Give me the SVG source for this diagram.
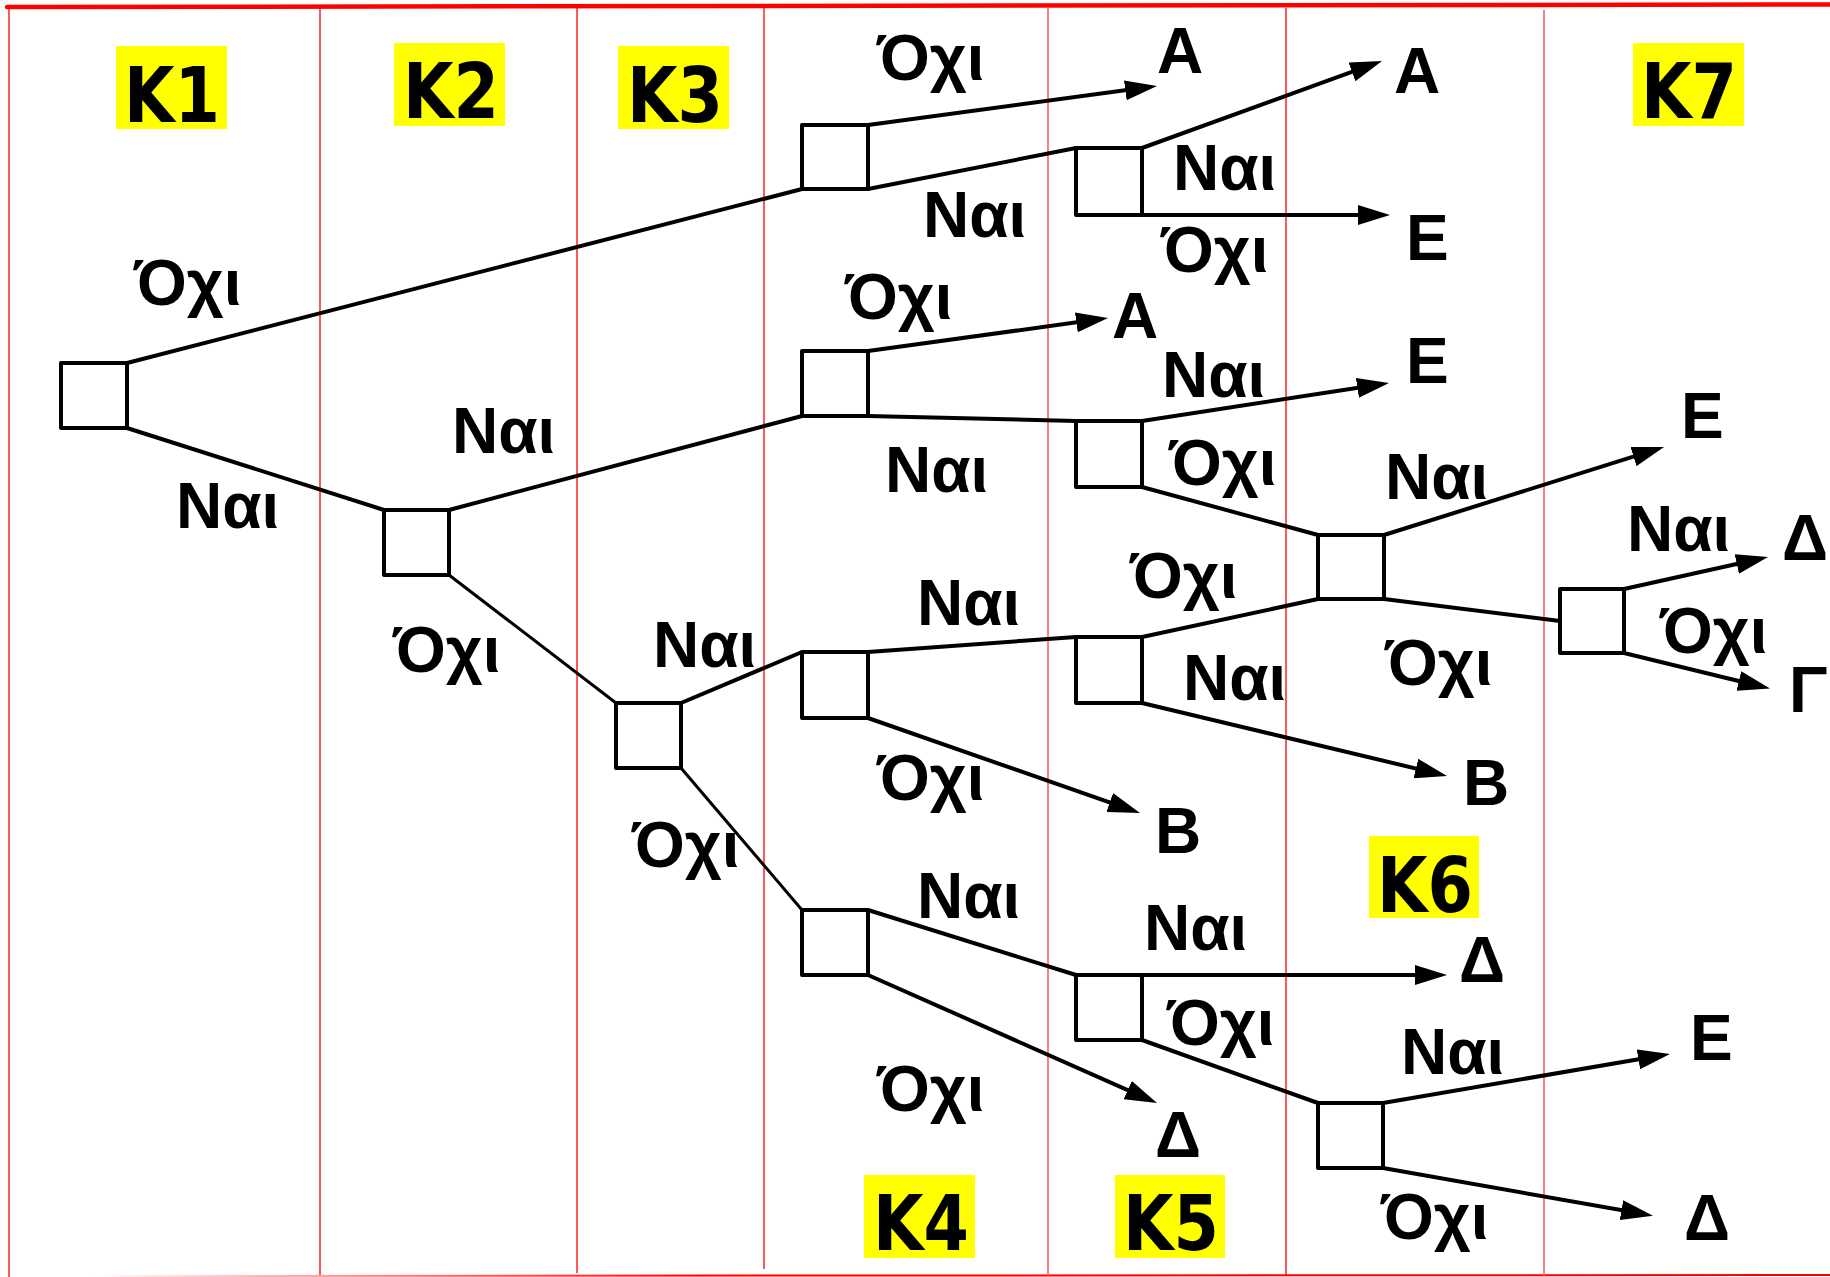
<svg xmlns="http://www.w3.org/2000/svg" width="1830" height="1277" viewBox="0 0 1830 1277">
<style>
.t{font-family:"Liberation Sans",Arial,sans-serif;font-weight:bold;font-size:64px;fill:#000}
.k{font-family:"DejaVu Sans Condensed","DejaVu Sans",sans-serif;font-stretch:condensed;font-weight:bold;font-size:76px;fill:#000}
.kb{fill:#ffff00}
.n{fill:#fff;stroke:#000;stroke-width:4;stroke-linejoin:round}
.c{stroke:#000;stroke-width:4;fill:none}
.c3{stroke:#000;stroke-width:3;fill:none}
.a{marker-end:url(#ah)}
.g{stroke:#ff0000;stroke-width:1.3}
.g2{stroke:#ff5555;stroke-width:1.5}
</style>
<defs>
<marker id="ah" markerUnits="userSpaceOnUse" markerWidth="32" markerHeight="20" viewBox="0 0 32 20" refX="24" refY="10" orient="auto">
<path d="M0,0 L32,10 L0,20 z" fill="#000"/>
</marker>
<linearGradient id="bg" gradientUnits="userSpaceOnUse" x1="90" y1="0" x2="700" y2="0">
<stop offset="0" stop-color="#ff0000" stop-opacity="0"/>
<stop offset="1" stop-color="#ff0000" stop-opacity="1"/>
</linearGradient>
</defs>
<rect width="1830" height="1277" fill="#fff"/>
<g id="grid">
<line x1="7" y1="7" x2="1830" y2="4.5" stroke="#ff0000" stroke-width="4.5" stroke-linecap="round"/>
<line x1="60" y1="1276" x2="1830" y2="1275" stroke="url(#bg)" stroke-width="2"/>
<line class="g" x1="9" y1="8" x2="9" y2="1277"/>
<line class="g" x1="320" y1="8" x2="320" y2="1275"/>
<line class="g" x1="577" y1="8" x2="577" y2="1273"/>
<line class="g" x1="764" y1="8" x2="764" y2="1269"/>
<line class="g2" x1="1048" y1="8" x2="1048" y2="1276"/>
<line class="g" x1="1286" y1="8" x2="1286" y2="1276"/>
<line class="g2" x1="1544" y1="10" x2="1544" y2="1276"/>
</g>
<g id="klabels">
<g id="K1"><rect class="kb" x="116" y="46" width="111" height="83"/><text class="k" x="124" y="122" textLength="96" lengthAdjust="spacingAndGlyphs">K1</text></g>
<g id="K2"><rect class="kb" x="394" y="43" width="111" height="83"/><text class="k" x="403" y="118" textLength="96" lengthAdjust="spacingAndGlyphs">K2</text></g>
<g id="K3"><rect class="kb" x="618" y="46" width="111" height="83"/><text class="k" x="627" y="122" textLength="96" lengthAdjust="spacingAndGlyphs">K3</text></g>
<g id="K4"><rect class="kb" x="864" y="1175" width="111" height="83"/><text class="k" x="873" y="1250" textLength="96" lengthAdjust="spacingAndGlyphs">K4</text></g>
<g id="K5"><rect class="kb" x="1115" y="1175" width="110" height="83"/><text class="k" x="1123" y="1250" textLength="96" lengthAdjust="spacingAndGlyphs">K5</text></g>
<g id="K6"><rect class="kb" x="1369" y="836" width="110" height="82"/><text class="k" x="1377" y="912" textLength="96" lengthAdjust="spacingAndGlyphs">K6</text></g>
<g id="K7"><rect class="kb" x="1633" y="43" width="111" height="83"/><text class="k" x="1641" y="118" textLength="96" lengthAdjust="spacingAndGlyphs">K7</text></g>
</g>
<g id="connectors">
<line class="c" x1="127" y1="363" x2="802" y2="189"/>
<line class="c" x1="127" y1="428" x2="384" y2="510"/>
<line class="c" x1="449" y1="510" x2="802" y2="416"/>
<line class="c3" x1="449" y1="575" x2="616" y2="703"/>
<line class="c" x1="681" y1="703" x2="802" y2="652"/>
<line class="c3" x1="681" y1="768" x2="802" y2="910"/>
<line class="c a" x1="868" y1="125" x2="1149.1" y2="87.1"/>
<line class="c" x1="868" y1="189" x2="1076" y2="148"/>
<line class="c a" x1="868" y1="351" x2="1100.1" y2="319.1"/>
<line class="c" x1="868" y1="416" x2="1076" y2="421"/>
<line class="c" x1="868" y1="652" x2="1076" y2="637"/>
<line class="c a" x1="868" y1="718" x2="1132.4" y2="810.4"/>
<line class="c" x1="868" y1="910" x2="1076" y2="975"/>
<line class="c a" x1="868" y1="975" x2="1149.7" y2="1099.8"/>
<line class="c a" x1="1142" y1="148" x2="1374.5" y2="63.7"/>
<line class="c a" x1="1142" y1="215" x2="1382" y2="215"/>
<line class="c a" x1="1142" y1="421" x2="1381.1" y2="384.2"/>
<line class="c" x1="1142" y1="487" x2="1318" y2="535"/>
<line class="c" x1="1142" y1="637" x2="1318" y2="599"/>
<line class="c a" x1="1142" y1="703" x2="1439.2" y2="774.1"/>
<line class="c a" x1="1142" y1="975" x2="1439" y2="975"/>
<line class="c" x1="1142" y1="1040" x2="1318" y2="1103"/>
<line class="c a" x1="1384" y1="535" x2="1656.4" y2="449.4"/>
<line class="c" x1="1384" y1="599" x2="1560" y2="621"/>
<line class="c a" x1="1624" y1="589" x2="1760.2" y2="558.7"/>
<line class="c a" x1="1624" y1="653" x2="1762.2" y2="686.7"/>
<line class="c a" x1="1383" y1="1103" x2="1662.1" y2="1055.3"/>
<line class="c a" x1="1383" y1="1168" x2="1645.1" y2="1214.3"/>
</g>
<g id="nodes">
<g id="n1"><rect class="n" x="61" y="363" width="66" height="65"/></g>
<g id="n2"><rect class="n" x="384" y="510" width="65" height="65"/></g>
<g id="n3"><rect class="n" x="616" y="703" width="65" height="65"/></g>
<g id="n4"><rect class="n" x="802" y="125" width="66" height="64"/></g>
<g id="n5"><rect class="n" x="802" y="351" width="66" height="65"/></g>
<g id="n6"><rect class="n" x="802" y="652" width="66" height="66"/></g>
<g id="n7"><rect class="n" x="802" y="910" width="66" height="65"/></g>
<g id="n8"><rect class="n" x="1076" y="148" width="66" height="67"/></g>
<g id="n9"><rect class="n" x="1076" y="421" width="66" height="66"/></g>
<g id="n10"><rect class="n" x="1076" y="637" width="66" height="66"/></g>
<g id="n11"><rect class="n" x="1076" y="975" width="66" height="65"/></g>
<g id="n12"><rect class="n" x="1318" y="535" width="66" height="64"/></g>
<g id="n13"><rect class="n" x="1560" y="589" width="64" height="64"/></g>
<g id="n14"><rect class="n" x="1318" y="1103" width="65" height="65"/></g>
</g>
<g id="labels">
<text class="t" x="134" y="305">Όχι</text>
<text class="t" x="176" y="528">Ναι</text>
<text class="t" x="452" y="453">Ναι</text>
<text class="t" x="393" y="672">Όχι</text>
<text class="t" x="653" y="667">Ναι</text>
<text class="t" x="632" y="867">Όχι</text>
<text class="t" x="877" y="80">Όχι</text>
<text class="t" x="923" y="237">Ναι</text>
<text class="t" x="845" y="319">Όχι</text>
<text class="t" x="885" y="492">Ναι</text>
<text class="t" x="917" y="625">Ναι</text>
<text class="t" x="877" y="800">Όχι</text>
<text class="t" x="917" y="918">Ναι</text>
<text class="t" x="877" y="1111">Όχι</text>
<text class="t" x="1173" y="190">Ναι</text>
<text class="t" x="1161" y="272">Όχι</text>
<text class="t" x="1162" y="397">Ναι</text>
<text class="t" x="1169" y="485">Όχι</text>
<text class="t" x="1130" y="598">Όχι</text>
<text class="t" x="1183" y="700">Ναι</text>
<text class="t" x="1144" y="950">Ναι</text>
<text class="t" x="1167" y="1045">Όχι</text>
<text class="t" x="1385" y="499">Ναι</text>
<text class="t" x="1385" y="685">Όχι</text>
<text class="t" x="1627" y="551">Ναι</text>
<text class="t" x="1660" y="653">Όχι</text>
<text class="t" x="1401" y="1074">Ναι</text>
<text class="t" x="1381" y="1239">Όχι</text>
</g>
<g id="outcomes">
<text class="t" x="1157" y="73">Α</text>
<text class="t" x="1112" y="338">Α</text>
<text class="t" x="1394" y="93">Α</text>
<text class="t" x="1406" y="260">Ε</text>
<text class="t" x="1406" y="383">Ε</text>
<text class="t" x="1681" y="438">Ε</text>
<text class="t" x="1782" y="560">Δ</text>
<text class="t" x="1789" y="712">Γ</text>
<text class="t" x="1155" y="853">Β</text>
<text class="t" x="1463" y="805">Β</text>
<text class="t" x="1459" y="982">Δ</text>
<text class="t" x="1155" y="1157">Δ</text>
<text class="t" x="1690" y="1060">Ε</text>
<text class="t" x="1684" y="1240">Δ</text>
</g>
</svg>
